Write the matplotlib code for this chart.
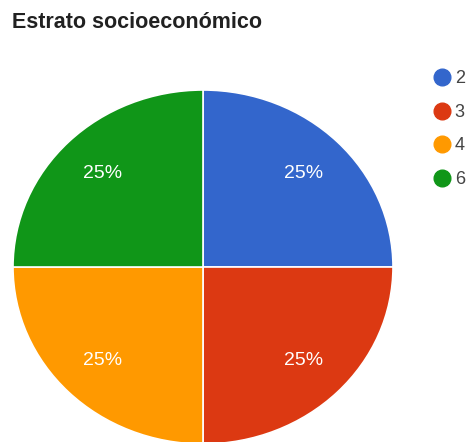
import matplotlib.pyplot as plt
from matplotlib.lines import Line2D

# Estrato socioeconómico (Google Forms pie)
estratos = ['2', '3', '4', '6']
porcentajes = [25, 25, 25, 25]
colores = ['#3366CC', '#DC3912', '#FF9900', '#109618']

plt.rcParams['font.family'] = ['Liberation Sans', 'DejaVu Sans']

W, H = 474, 442
fig = plt.figure(figsize=(W / 100, H / 100), dpi=100)

# pie is stretched a bit wider than tall in the reference, bottom is clipped
ax = fig.add_axes([13 / W, -2 / H, 380 / W, 354 / H])
wedges, texts, autotexts = ax.pie(
    porcentajes, colors=colores, startangle=90, counterclock=False,
    autopct='%d%%', pctdistance=0.745,
    wedgeprops={'edgecolor': 'white', 'linewidth': 1.2},
    textprops={'color': 'white', 'fontsize': 14})
ax.set_xlim(-1, 1)
ax.set_ylim(-1, 1)
ax.set_aspect('auto')
ax.axis('off')

fig.text(12 / W, 1 - 23 / H, 'Estrato socioeconómico', fontsize=15.5,
         fontweight='bold', color='#212121', va='center', ha='left')

handles = [Line2D([], [], marker='o', linestyle='', markersize=12,
                  markerfacecolor=c, markeredgecolor=c) for c in colores]
fig.legend(handles, estratos, loc='upper left',
           bbox_to_anchor=(424 / W, 1 - 63 / H), frameon=False,
           fontsize=13, labelcolor='#444444', handletextpad=0.1,
           labelspacing=0.92, handlelength=1.2, borderaxespad=0)

fig.savefig('out.png', dpi=100)
